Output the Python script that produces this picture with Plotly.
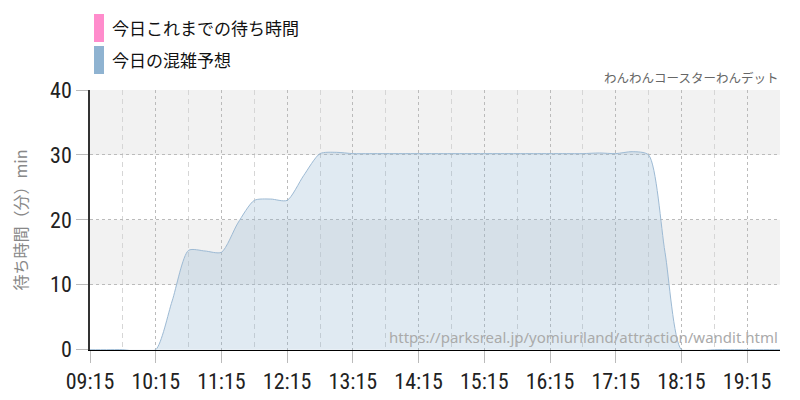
import plotly.graph_objects as go
import pandas as pd

# ---- data ----
times = pd.date_range("2024-01-01 09:15", "2024-01-01 19:45", freq="15min")
forecast = [
    0, 0, 0, -0.3, 0,            # 09:15 - 10:15
    7.5, 15.3, 15.2, 15.0,       # 10:30 - 11:15
    19.5, 23.0, 23.2, 23.0,      # 11:30 - 12:15
    26.8, 30.2, 30.4, 30.2,      # 12:30 - 13:15
    30.2, 30.2, 30.2, 30.2,      # 13:30 - 14:15
    30.2, 30.2, 30.2, 30.2,      # 14:30 - 15:15
    30.2, 30.2, 30.2, 30.2,      # 15:30 - 16:15
    30.2, 30.2, 30.3, 30.2,      # 16:30 - 17:15
    30.5, 30.0, 15.0, 0,         # 17:30 - 18:15
    -0.2, 0, 0, 0,               # 18:30 - 19:15
    0, 0,                        # 19:30 - 19:45
]
today_actual = []  # no observed waits yet

legend_labels = ["今日これまでの待ち時間", "今日の混雑予想"]
legend_colors = ["#ff8ccc", "#8fb3d1"]
title_text = "わんわんコースターわんデット"
url_text = "https://parksreal.jp/yomiuriland/attraction/wandit.html"
y_title = "待ち時間（分）min"
y_ticks = [0, 10, 20, 30, 40]

TICK_FONT = "Roboto Condensed, Liberation Sans Narrow, DejaVu Sans Condensed, sans-serif"
JP_FONT = "Noto Sans CJK JP, sans-serif"

# page body has an 8px offset; compensate so plot area sits at x 90..780, y 90..350
OFF = 8
L, R, T, B = 90 - OFF, 20 + OFF, 90 - OFF, 50 + OFF
PW, PH = 690, 260

fig = go.Figure()
fig.add_trace(go.Scatter(
    x=times, y=forecast, mode="lines",
    line=dict(color="#9dbad4", width=1, shape="spline", smoothing=0.7),
    fill="tozeroy", fillcolor="rgba(143,179,209,0.28)",
    showlegend=False, hoverinfo="skip",
))

shapes = []
for lo, hi in [(10, 20), (30, 40)]:
    shapes.append(dict(type="rect", xref="paper", yref="y", x0=0, x1=1, y0=lo, y1=hi,
                       fillcolor="#f2f2f2", line=dict(width=0), layer="below"))
for i, c in enumerate(legend_colors):
    top = 14 + 32 * i
    bot = top + 28
    shapes.append(dict(type="rect", xref="paper", yref="paper",
                       x0=(94 - 90) / PW, x1=(104 - 90) / PW,
                       y0=(350 - bot) / PH, y1=(350 - top) / PH,
                       fillcolor=c, line=dict(width=0)))

annotations = []
for i, t in enumerate(legend_labels):
    yc = 28 + 32 * i
    annotations.append(dict(text=t, xref="paper", yref="paper",
                            x=(110 - 90) / PW, y=(350 - yc) / PH,
                            xanchor="left", yanchor="middle", showarrow=False,
                            font=dict(family=JP_FONT, size=17, color="#111")))
annotations.append(dict(text=title_text, xref="paper", yref="paper",
                        x=1, y=(350 - 78) / PH, xanchor="right", yanchor="middle",
                        showarrow=False, font=dict(family=JP_FONT, size=12.5, color="#666")))
annotations.append(dict(text=url_text, xref="paper", yref="paper",
                        x=1, y=(350 - 337) / PH, xanchor="right", yanchor="middle",
                        showarrow=False, font=dict(family="Noto Sans, sans-serif", size=15, color="#aaaaaa")))

fig.update_layout(
    width=800, height=400,
    margin=dict(l=L, r=R, t=T, b=B, autoexpand=False),
    paper_bgcolor="white", plot_bgcolor="white",
    shapes=shapes, annotations=annotations,
    showlegend=False,
    xaxis=dict(
        range=[times[0], times[-1]], tickformat="%H:%M",
        tick0=times[0], dtick=3600000,
        showgrid=True, gridcolor="#bbbbbb", griddash="dot", gridwidth=1,
        minor=dict(tick0=times[2], dtick=3600000, showgrid=True,
                   gridcolor="#d6d6d6", griddash="5px,4px", gridwidth=1, ticks=""),
        ticks="outside", ticklen=12, tickcolor="#bbbbbb",
        showline=True, linecolor="#000000", linewidth=1,
        tickfont=dict(family=TICK_FONT, size=22, color="#222"),
        zeroline=False, automargin=False,
    ),
    yaxis=dict(
        range=[-0.05, 40], tickvals=y_ticks,
        showgrid=True, gridcolor="#bbbbbb", griddash="dot", gridwidth=1,
        ticks="outside", ticklen=12, tickcolor="#bbbbbb",
        showline=True, linecolor="#333333", linewidth=1.5,
        tickfont=dict(family=TICK_FONT, size=22, color="#222"),
        title=dict(text=y_title, font=dict(family=JP_FONT, size=16, color="#888"), standoff=22),
        zeroline=False, automargin=False,
    ),
)

fig.write_html("out.html")
